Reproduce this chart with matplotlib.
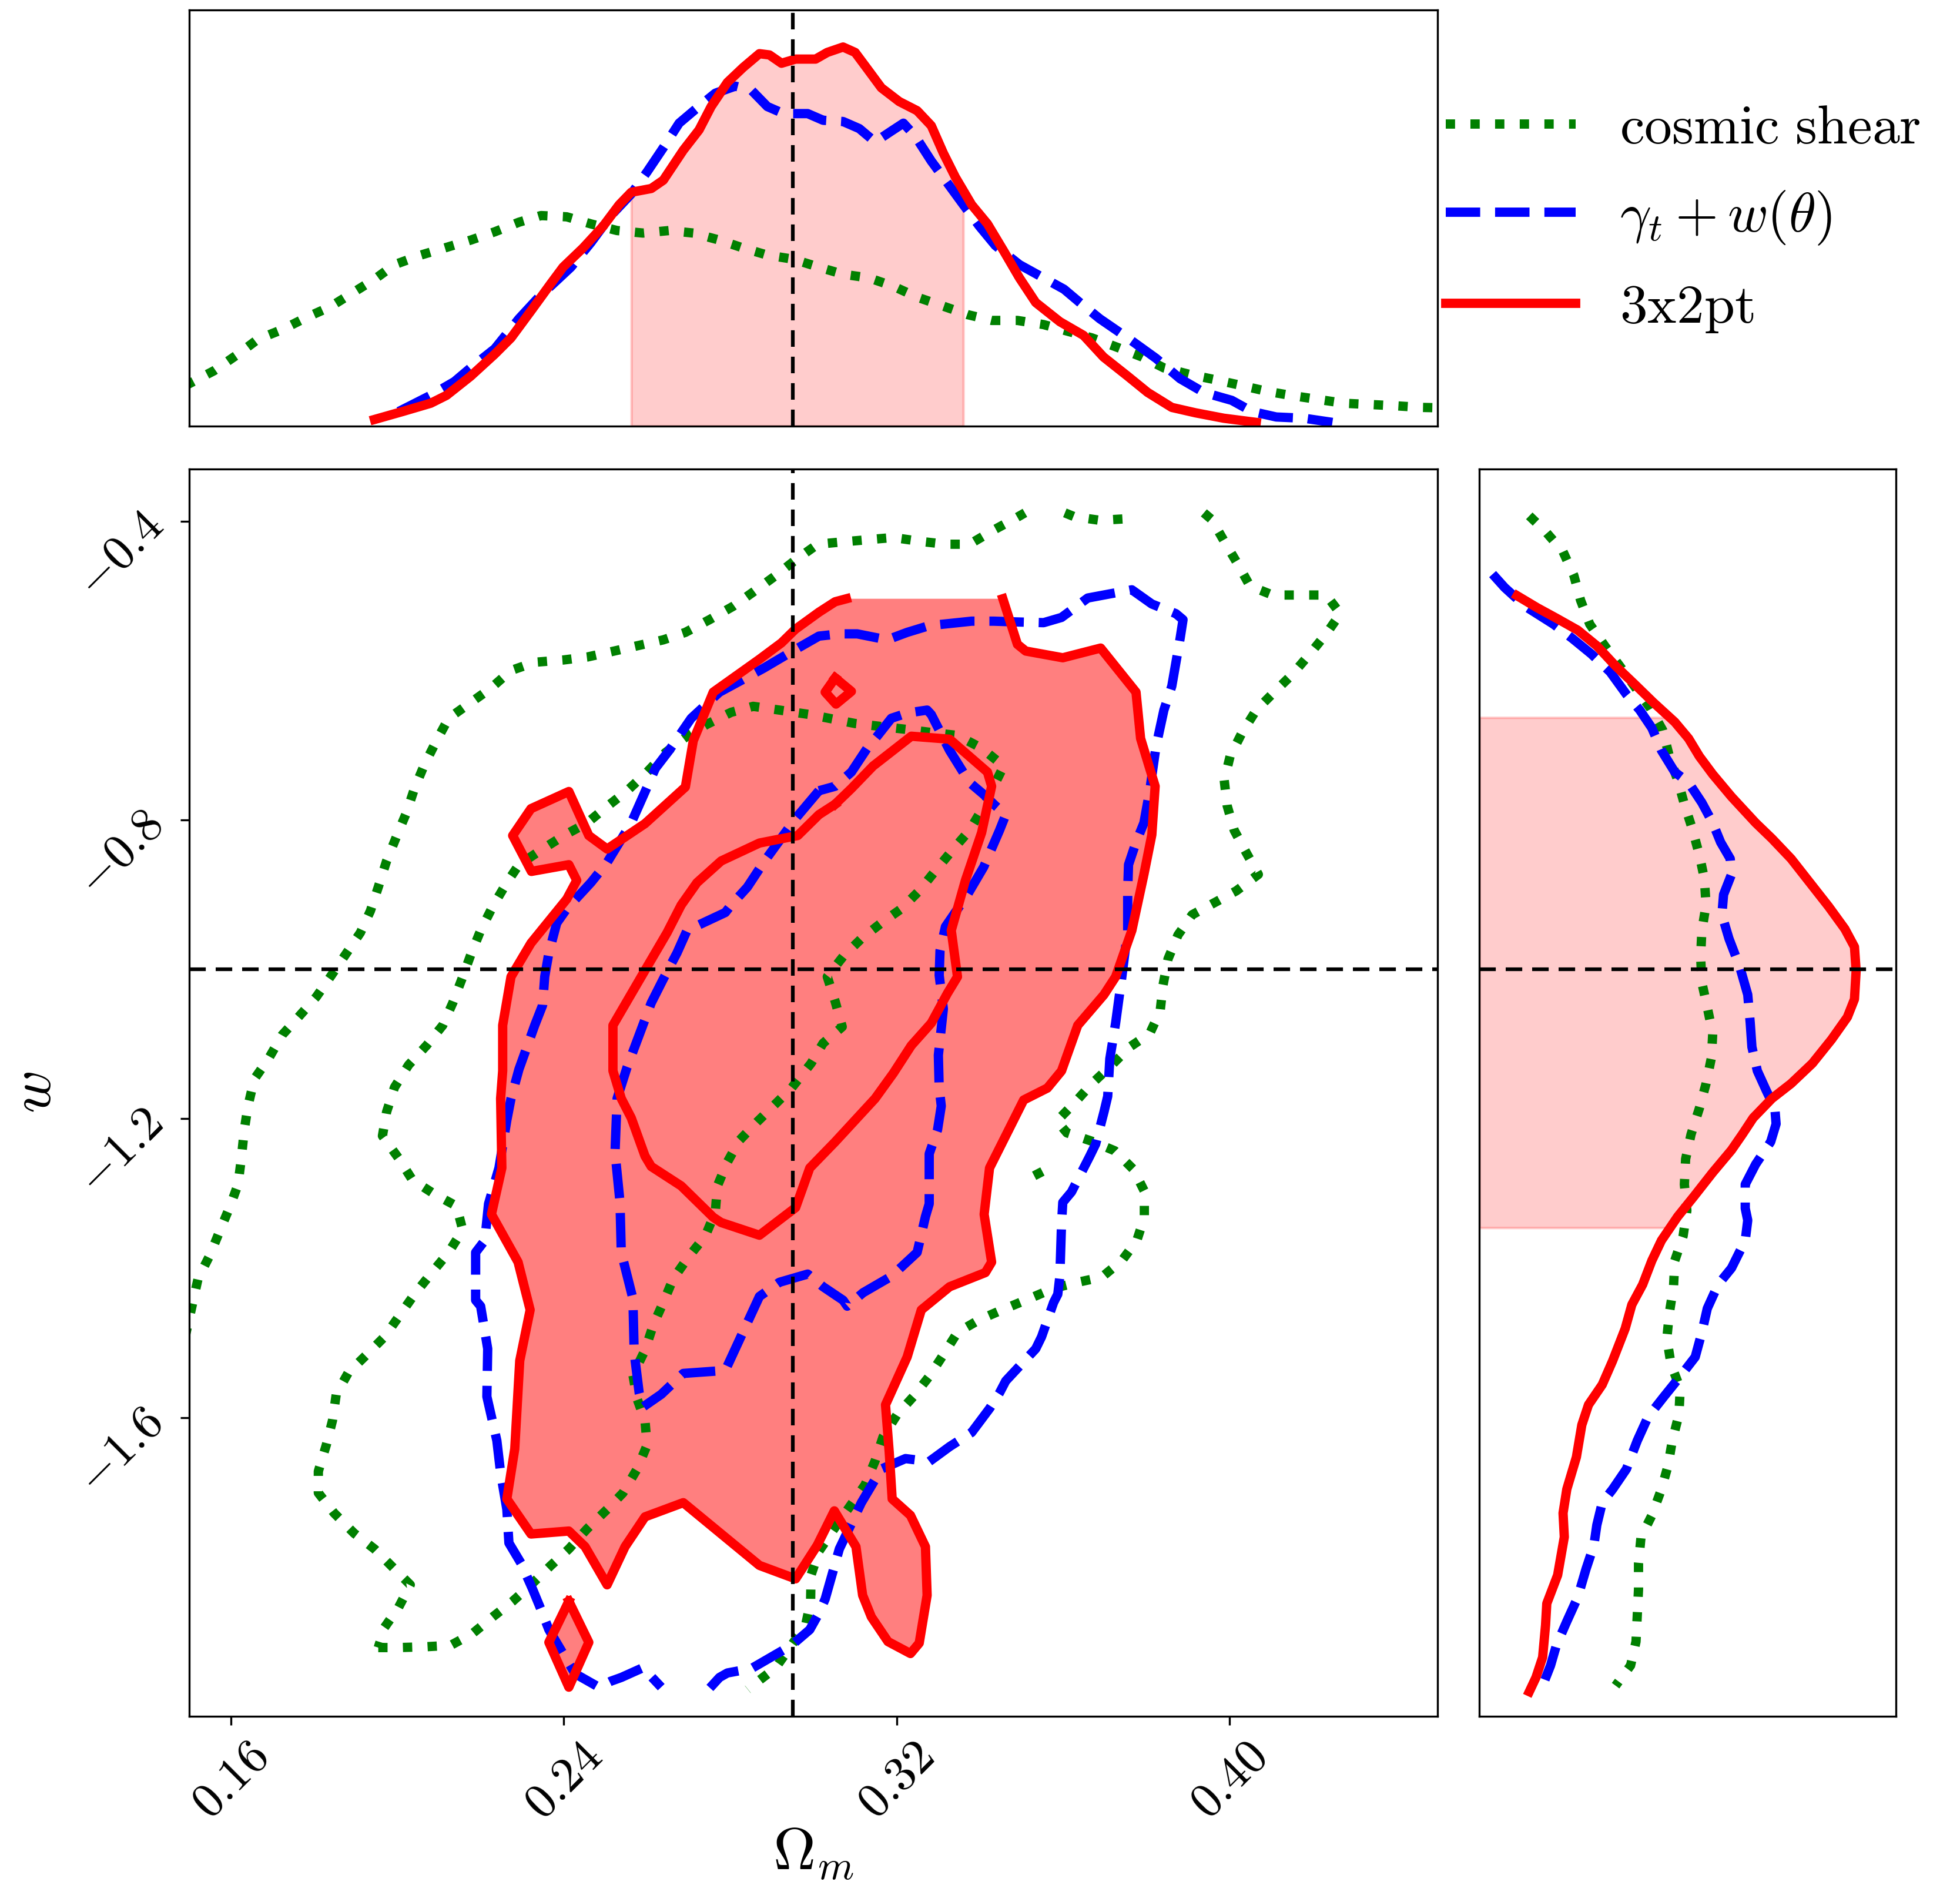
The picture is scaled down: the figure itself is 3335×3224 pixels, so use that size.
import numpy as np
import matplotlib
matplotlib.use("Agg")
import matplotlib.pyplot as plt
from matplotlib.lines import Line2D

plt.rcParams["mathtext.fontset"] = "cm"
plt.rcParams["font.family"] = "serif"
plt.rcParams["font.serif"] = ["DejaVu Serif"]

# fiducial cosmology
om_fid = 0.295
w_fid = -1.0

om_ticks = [0.16, 0.24, 0.32, 0.40]
om_ticklabels = [r"$0.16$", r"$0.24$", r"$0.32$", r"$0.40$"]
w_ticks = [-1.6, -1.2, -0.8, -0.4]
w_ticklabels = [r"$-1.6$", r"$-1.2$", r"$-0.8$", r"$-0.4$"]

labels = [r"$\mathrm{cosmic\ shear}$", r"$\gamma_t + w(\theta)$", r"$\mathrm{3x2pt}$"]

# ---- 2D contours, (Omega_m, w) vertices ----
# 3x2pt outer (95%) contour, open at the top edge of the grid
red_outer = np.array([
    (0.3079, -0.504), (0.3052, -0.508), (0.3013, -0.522), (0.2956, -0.545), (0.2923, -0.563),
    (0.2870, -0.585), (0.2759, -0.629), (0.2711, -0.694), (0.2692, -0.756), (0.2595, -0.805),
    (0.2504, -0.839), (0.2460, -0.821), (0.2412, -0.762), (0.2321, -0.785), (0.2277, -0.821),
    (0.2322, -0.869), (0.2412, -0.860), (0.2431, -0.881), (0.2407, -0.906), (0.2321, -0.965),
    (0.2273, -1.010), (0.2253, -1.075), (0.2253, -1.136), (0.2248, -1.173), (0.2251, -1.266),
    (0.2226, -1.328), (0.2290, -1.392), (0.2319, -1.456), (0.2294, -1.524), (0.2282, -1.642),
    (0.2263, -1.709), (0.2321, -1.756), (0.2412, -1.752), (0.2451, -1.773), (0.2504, -1.824),
    (0.2547, -1.773), (0.2595, -1.733), (0.2687, -1.714), (0.2870, -1.798), (0.2957, -1.816),
    (0.3009, -1.771), (0.3050, -1.725), (0.3102, -1.773), (0.3118, -1.838), (0.3139, -1.867),
    (0.3179, -1.900), (0.3233, -1.916), (0.3254, -1.902), (0.3273, -1.838), (0.3269, -1.773),
    (0.3233, -1.731), (0.3189, -1.709), (0.3182, -1.647), (0.3173, -1.583), (0.3225, -1.519),
    (0.3259, -1.456), (0.3327, -1.425), (0.3413, -1.406), (0.3428, -1.392), (0.3410, -1.328),
    (0.3423, -1.266), (0.3505, -1.175), (0.3562, -1.159), (0.3596, -1.136), (0.3635, -1.075),
    (0.3698, -1.034), (0.3726, -1.010), (0.3765, -0.948), (0.3794, -0.873), (0.3813, -0.820),
    (0.3821, -0.755), (0.3786, -0.691), (0.3775, -0.629), (0.3690, -0.570), (0.3599, -0.583),
    (0.3510, -0.574), (0.3490, -0.565), (0.3455, -0.504),
])
red_island_top = np.array([(0.3052, -0.610), (0.3091, -0.628), (0.3054, -0.645), (0.3028, -0.629)])
red_island_bottom = np.array([(0.2412, -1.846), (0.2460, -1.901), (0.2412, -1.961), (0.2364, -1.901)])

# 3x2pt inner (68%) contour
red_inner = np.array([
    (0.3052, -0.779), (0.3013, -0.793), (0.2962, -0.821), (0.2870, -0.831), (0.2778, -0.855),
    (0.2720, -0.884), (0.2682, -0.914), (0.2648, -0.951), (0.2586, -1.010), (0.2518, -1.075),
    (0.2518, -1.136), (0.2538, -1.173), (0.2562, -1.199), (0.2595, -1.250), (0.2610, -1.264),
    (0.2682, -1.290), (0.2759, -1.332), (0.2778, -1.339), (0.2870, -1.356), (0.2957, -1.319),
    (0.2991, -1.266), (0.3052, -1.231), (0.3148, -1.173), (0.3192, -1.139), (0.3235, -1.102),
    (0.3283, -1.072), (0.3322, -1.032), (0.3346, -1.010), (0.3331, -0.948), (0.3365, -0.881),
    (0.3404, -0.817), (0.3428, -0.755), (0.3418, -0.736), (0.3327, -0.692), (0.3235, -0.688),
    (0.3143, -0.728), (0.3091, -0.758),
])

# gamma_t + w(theta) outer contour, open at the bottom edge of the grid
blue_outer = np.array([
    (0.2751, -1.962), (0.2774, -1.948), (0.2793, -1.942), (0.2851, -1.936), (0.2947, -1.905),
    (0.2991, -1.884), (0.3013, -1.862), (0.3028, -1.843), (0.3062, -1.776), (0.3115, -1.714),
    (0.3163, -1.669), (0.3221, -1.655), (0.3278, -1.659), (0.3327, -1.639), (0.3380, -1.620),
    (0.3423, -1.588), (0.3447, -1.567), (0.3462, -1.551), (0.3534, -1.508), (0.3548, -1.492),
    (0.3577, -1.446), (0.3587, -1.435), (0.3592, -1.411), (0.3596, -1.341), (0.3599, -1.312),
    (0.3620, -1.298), (0.3664, -1.250), (0.3678, -1.234), (0.3698, -1.191), (0.3707, -1.170),
    (0.3712, -1.120), (0.3726, -1.072), (0.3741, -1.010), (0.3755, -0.948), (0.3755, -0.895),
    (0.3757, -0.860), (0.3775, -0.830), (0.3794, -0.804), (0.3808, -0.761), (0.3823, -0.702),
    (0.3842, -0.653), (0.3861, -0.621), (0.3871, -0.589), (0.3881, -0.557), (0.3888, -0.532),
    (0.3871, -0.524), (0.3813, -0.511), (0.3765, -0.492), (0.3707, -0.498), (0.3659, -0.503),
    (0.3596, -0.529), (0.3553, -0.536), (0.3486, -0.535), (0.3433, -0.534), (0.3380, -0.534),
    (0.3278, -0.540), (0.3225, -0.549), (0.3177, -0.559), (0.3105, -0.551), (0.3062, -0.551),
    (0.3013, -0.554), (0.2947, -0.575), (0.2880, -0.597), (0.2774, -0.629), (0.2706, -0.664),
    (0.2653, -0.707), (0.2620, -0.731), (0.2562, -0.804), (0.2504, -0.857), (0.2465, -0.884),
    (0.2407, -0.919), (0.2383, -0.938), (0.2364, -0.978), (0.2354, -1.010), (0.2349, -1.048),
    (0.2330, -1.075), (0.2292, -1.134), (0.2273, -1.173), (0.2263, -1.202), (0.2244, -1.266),
    (0.2219, -1.314), (0.2210, -1.363), (0.2188, -1.379), (0.2188, -1.443), (0.2200, -1.451),
    (0.2217, -1.508), (0.2215, -1.572), (0.2239, -1.631), (0.2248, -1.674), (0.2263, -1.723),
    (0.2268, -1.768), (0.2297, -1.795), (0.2325, -1.830), (0.2345, -1.857), (0.2364, -1.884),
    (0.2398, -1.916), (0.2427, -1.943), (0.2484, -1.961), (0.2513, -1.953), (0.2538, -1.948),
    (0.2590, -1.935), (0.2634, -1.961),
])

blue_inner = np.array([
    (0.3013, -0.761), (0.2957, -0.798), (0.2880, -0.857), (0.2841, -0.890), (0.2802, -0.914),
    (0.2788, -0.924), (0.2696, -0.948), (0.2672, -0.978), (0.2639, -1.013), (0.2610, -1.045),
    (0.2581, -1.088), (0.2552, -1.131), (0.2528, -1.173), (0.2523, -1.245), (0.2535, -1.312),
    (0.2538, -1.379), (0.2566, -1.441), (0.2569, -1.513), (0.2581, -1.567), (0.2590, -1.586),
    (0.2634, -1.569), (0.2687, -1.541), (0.2788, -1.537), (0.2812, -1.508), (0.2870, -1.438),
    (0.2918, -1.419), (0.2986, -1.408), (0.3023, -1.425), (0.3071, -1.443), (0.3081, -1.451),
    (0.3119, -1.433), (0.3187, -1.411), (0.3249, -1.379), (0.3269, -1.331), (0.3278, -1.314),
    (0.3278, -1.247), (0.3298, -1.215), (0.3307, -1.183), (0.3302, -1.159), (0.3300, -1.115),
    (0.3312, -1.053), (0.3302, -1.008), (0.3304, -0.975), (0.3317, -0.943), (0.3370, -0.900),
    (0.3409, -0.863), (0.3447, -0.814), (0.3462, -0.793), (0.3437, -0.781), (0.3409, -0.766),
    (0.3375, -0.750), (0.3327, -0.707), (0.3283, -0.659), (0.3273, -0.653), (0.3225, -0.657),
    (0.3187, -0.664), (0.3153, -0.688), (0.3129, -0.704), (0.3091, -0.736), (0.3052, -0.755),
])

# cosmic shear outer contour: three open pieces (grid edges on the left, top and bottom)
green_outer_a = np.array([
    (0.1490, -1.492), (0.1521, -1.414), (0.1550, -1.382), (0.1574, -1.349), (0.1598, -1.317),
    (0.1617, -1.288), (0.1625, -1.253), (0.1632, -1.215), (0.1641, -1.183), (0.1656, -1.147),
    (0.1690, -1.120), (0.1723, -1.088), (0.1762, -1.064), (0.1805, -1.037), (0.1839, -1.010),
    (0.1872, -0.983), (0.1911, -0.951), (0.1935, -0.922), (0.1954, -0.890), (0.1974, -0.855),
    (0.1998, -0.822), (0.2022, -0.790), (0.2041, -0.758), (0.2065, -0.726), (0.2094, -0.694),
    (0.2123, -0.664), (0.2176, -0.643), (0.2224, -0.624), (0.2273, -0.600), (0.2330, -0.589),
    (0.2398, -0.586), (0.2456, -0.582), (0.2513, -0.575), (0.2576, -0.567), (0.2639, -0.559),
    (0.2692, -0.549), (0.2750, -0.532), (0.2807, -0.514), (0.2855, -0.495), (0.2909, -0.473),
    (0.2957, -0.452), (0.3010, -0.431), (0.3067, -0.428), (0.3129, -0.425), (0.3192, -0.422),
    (0.3254, -0.427), (0.3317, -0.431), (0.3375, -0.431), (0.3433, -0.412), (0.3486, -0.396),
    (0.3508, -0.389),
])
green_outer_b = np.array([
    (0.3604, -0.389), (0.3626, -0.394), (0.3688, -0.399), (0.3749, -0.397), (0.3767, -0.389),
])
green_outer_c = np.array([
    (0.3938, -0.389), (0.3957, -0.398), (0.3988, -0.428), (0.4020, -0.458), (0.4049, -0.487),
    (0.4103, -0.499), (0.4165, -0.499), (0.4232, -0.499), (0.4266, -0.524), (0.4232, -0.551),
    (0.4194, -0.577), (0.4151, -0.605), (0.4107, -0.629), (0.4064, -0.653), (0.4030, -0.683),
    (0.4001, -0.715), (0.3987, -0.747), (0.3994, -0.781), (0.4011, -0.814), (0.4040, -0.844),
    (0.4069, -0.873), (0.4016, -0.895), (0.3963, -0.911), (0.3910, -0.927), (0.3876, -0.954),
    (0.3852, -0.986), (0.3840, -1.021), (0.3833, -1.056), (0.3808, -1.086), (0.3760, -1.104),
    (0.3717, -1.128), (0.3669, -1.153), (0.3627, -1.179), (0.3585, -1.203), (0.3609, -1.219),
    (0.3668, -1.230), (0.3724, -1.243), (0.3769, -1.268), (0.3795, -1.297), (0.3795, -1.332),
    (0.3777, -1.363), (0.3741, -1.390), (0.3693, -1.412), (0.3635, -1.419), (0.3577, -1.427),
    (0.3514, -1.442), (0.3457, -1.455), (0.3399, -1.469), (0.3346, -1.486), (0.3312, -1.516),
    (0.3278, -1.545), (0.3240, -1.572), (0.3201, -1.596), (0.3167, -1.626), (0.3148, -1.658),
    (0.3124, -1.690), (0.3086, -1.720), (0.3052, -1.747), (0.3013, -1.779), (0.2994, -1.811),
    (0.2993, -1.846), (0.2981, -1.878), (0.2909, -1.935), (0.2860, -1.956), (0.2842, -1.964),
])
green_outer_bit = np.array([(0.3535, -1.268), (0.3548, -1.282)])

# cosmic shear inner (68%) contour
green_inner = np.array([
    (0.1954, -1.908), (0.2003, -1.908), (0.2065, -1.907), (0.2128, -1.905), (0.2181, -1.889),
    (0.2229, -1.867), (0.2277, -1.846), (0.2321, -1.824), (0.2369, -1.798), (0.2412, -1.776),
    (0.2456, -1.749), (0.2504, -1.723), (0.2542, -1.701), (0.2576, -1.669), (0.2600, -1.637),
    (0.2595, -1.604), (0.2576, -1.575), (0.2566, -1.543), (0.2595, -1.510), (0.2615, -1.476),
    (0.2639, -1.446), (0.2663, -1.414), (0.2701, -1.384), (0.2740, -1.357), (0.2764, -1.325),
    (0.2769, -1.290), (0.2793, -1.258), (0.2822, -1.229), (0.2865, -1.204), (0.2909, -1.180),
    (0.2947, -1.159), (0.2994, -1.126), (0.3023, -1.099), (0.3069, -1.077), (0.3052, -1.043),
    (0.3033, -1.010), (0.3071, -0.983), (0.3115, -0.959), (0.3163, -0.938), (0.3211, -0.919),
    (0.3254, -0.895), (0.3293, -0.868), (0.3336, -0.839), (0.3375, -0.814), (0.3409, -0.782),
    (0.3433, -0.755), (0.3457, -0.728), (0.3404, -0.704), (0.3346, -0.687), (0.3283, -0.683),
    (0.3225, -0.679), (0.3163, -0.675), (0.3100, -0.671), (0.3037, -0.664), (0.2991, -0.659),
    (0.2918, -0.653), (0.2855, -0.648), (0.2802, -0.656), (0.2744, -0.672), (0.2696, -0.688),
    (0.2644, -0.710), (0.2600, -0.736), (0.2552, -0.761), (0.2504, -0.782), (0.2456, -0.804),
    (0.2403, -0.820), (0.2349, -0.839), (0.2292, -0.860), (0.2263, -0.884), (0.2229, -0.916),
    (0.2200, -0.948), (0.2176, -0.981), (0.2157, -1.010), (0.2133, -1.045), (0.2109, -1.075),
    (0.2070, -1.102), (0.2027, -1.128), (0.1993, -1.158), (0.1974, -1.191), (0.1964, -1.223),
    (0.2003, -1.253), (0.2036, -1.282), (0.2089, -1.301), (0.2142, -1.317), (0.2157, -1.349),
    (0.2123, -1.379), (0.2080, -1.408), (0.2041, -1.435), (0.2007, -1.462), (0.1969, -1.492),
    (0.1926, -1.516), (0.1882, -1.540), (0.1853, -1.569), (0.1844, -1.604), (0.1829, -1.637),
    (0.1810, -1.672), (0.1810, -1.701), (0.1848, -1.728), (0.1896, -1.755), (0.1945, -1.776),
    (0.1988, -1.800), (0.2031, -1.824), (0.2003, -1.854), (0.1969, -1.881),
])

# ---- 1D marginals ----
# Omega_m (top panel): (Omega_m, relative density)
om_red = np.array([
    (0.1945, 0.016), (0.2012, 0.035), (0.2080, 0.055), (0.2118, 0.074), (0.2176, 0.120),
    (0.2234, 0.173), (0.2273, 0.212), (0.2321, 0.277), (0.2369, 0.343), (0.2398, 0.382),
    (0.2446, 0.428), (0.2494, 0.480), (0.2533, 0.532), (0.2562, 0.562), (0.2610, 0.571),
    (0.2639, 0.591), (0.2687, 0.663), (0.2725, 0.712), (0.2754, 0.768), (0.2793, 0.826),
    (0.2831, 0.862), (0.2870, 0.895), (0.2894, 0.892), (0.2923, 0.872), (0.2957, 0.882),
    (0.3005, 0.882), (0.3033, 0.898), (0.3071, 0.911), (0.3100, 0.898), (0.3129, 0.859),
    (0.3163, 0.813), (0.3206, 0.780), (0.3249, 0.758), (0.3283, 0.722), (0.3312, 0.656),
    (0.3341, 0.598), (0.3380, 0.532), (0.3418, 0.486), (0.3457, 0.421), (0.3495, 0.356),
    (0.3534, 0.297), (0.3592, 0.251), (0.3649, 0.218), (0.3697, 0.166), (0.3755, 0.120),
    (0.3803, 0.081), (0.3861, 0.045), (0.3918, 0.032), (0.3986, 0.019), (0.4064, 0.009),
])
om_blue = np.array([
    (0.2003, 0.035), (0.2080, 0.074), (0.2137, 0.107), (0.2176, 0.140), (0.2234, 0.186),
    (0.2292, 0.258), (0.2340, 0.310), (0.2417, 0.382), (0.2465, 0.441), (0.2513, 0.506),
    (0.2562, 0.558), (0.2600, 0.611), (0.2639, 0.669), (0.2677, 0.728), (0.2716, 0.761),
    (0.2764, 0.800), (0.2812, 0.817), (0.2851, 0.807), (0.2889, 0.768), (0.2928, 0.751),
    (0.2986, 0.751), (0.3023, 0.735), (0.3071, 0.732), (0.3110, 0.715), (0.3148, 0.683),
    (0.3187, 0.709), (0.3216, 0.728), (0.3245, 0.696), (0.3283, 0.637), (0.3322, 0.584),
    (0.3360, 0.532), (0.3399, 0.480), (0.3437, 0.434), (0.3495, 0.388), (0.3553, 0.356),
    (0.3602, 0.329), (0.3640, 0.297), (0.3688, 0.258), (0.3755, 0.212), (0.3823, 0.163),
    (0.3881, 0.114), (0.3938, 0.081), (0.4005, 0.062), (0.4054, 0.035), (0.4112, 0.022),
    (0.4179, 0.019), (0.4247, 0.009),
])
om_green = np.array([
    (0.1490, 0.097), (0.1559, 0.133), (0.1617, 0.173), (0.1665, 0.209), (0.1723, 0.232),
    (0.1781, 0.261), (0.1839, 0.287), (0.1892, 0.320), (0.1945, 0.353), (0.1993, 0.388),
    (0.2056, 0.411), (0.2113, 0.428), (0.2176, 0.447), (0.2234, 0.467), (0.2292, 0.490),
    (0.2345, 0.506), (0.2407, 0.503), (0.2465, 0.486), (0.2528, 0.470), (0.2590, 0.464),
    (0.2653, 0.470), (0.2711, 0.464), (0.2774, 0.447), (0.2831, 0.428), (0.2889, 0.411),
    (0.2952, 0.401), (0.3013, 0.382), (0.3071, 0.365), (0.3134, 0.356), (0.3192, 0.336),
    (0.3249, 0.310), (0.3307, 0.290), (0.3370, 0.268), (0.3428, 0.254), (0.3490, 0.254),
    (0.3553, 0.244), (0.3611, 0.228), (0.3669, 0.212), (0.3731, 0.189), (0.3790, 0.166),
    (0.3842, 0.140), (0.3905, 0.124), (0.3968, 0.111), (0.4027, 0.098), (0.4088, 0.084),
    (0.4146, 0.074), (0.4207, 0.065), (0.4275, 0.055), (0.4337, 0.052), (0.4397, 0.049),
    (0.4461, 0.045), (0.4510, 0.044),
])
om_band = (0.2562, 0.3360)

# w (right panel): (relative density, w)
w_red = np.array([
    (0.091, -0.500), (0.139, -0.516), (0.185, -0.530), (0.236, -0.546), (0.282, -0.567),
    (0.327, -0.594), (0.372, -0.618), (0.418, -0.643), (0.469, -0.669), (0.502, -0.691),
    (0.528, -0.715), (0.560, -0.739), (0.605, -0.769), (0.663, -0.804), (0.702, -0.825),
    (0.748, -0.852), (0.793, -0.884), (0.838, -0.916), (0.877, -0.946), (0.900, -0.970),
    (0.904, -1.002), (0.900, -1.040), (0.883, -1.064), (0.845, -1.094), (0.799, -1.126),
    (0.748, -1.153), (0.702, -1.173), (0.657, -1.199), (0.631, -1.221), (0.605, -1.242),
    (0.560, -1.272), (0.515, -1.304), (0.476, -1.331), (0.437, -1.363), (0.414, -1.390),
    (0.392, -1.422), (0.366, -1.449), (0.350, -1.481), (0.320, -1.524), (0.295, -1.556),
    (0.262, -1.583), (0.246, -1.610), (0.233, -1.653), (0.210, -1.696), (0.201, -1.728),
    (0.204, -1.760), (0.188, -1.811), (0.162, -1.849), (0.159, -1.878), (0.152, -1.921),
    (0.136, -1.948), (0.120, -1.967),
])
w_blue = np.array([
    (0.032, -0.471), (0.061, -0.489), (0.110, -0.514), (0.178, -0.538), (0.223, -0.557),
    (0.269, -0.578), (0.314, -0.602), (0.353, -0.632), (0.385, -0.653), (0.414, -0.677),
    (0.437, -0.707), (0.469, -0.736), (0.502, -0.750), (0.534, -0.777), (0.560, -0.804),
    (0.579, -0.830), (0.602, -0.852), (0.605, -0.873), (0.586, -0.900), (0.582, -0.927),
    (0.599, -0.959), (0.625, -0.997), (0.644, -1.034), (0.650, -1.072), (0.654, -1.104),
    (0.667, -1.136), (0.689, -1.163), (0.709, -1.186), (0.712, -1.207), (0.699, -1.231),
    (0.663, -1.261), (0.638, -1.288), (0.638, -1.320), (0.644, -1.336), (0.638, -1.363),
    (0.605, -1.400), (0.573, -1.422), (0.547, -1.454), (0.534, -1.486), (0.518, -1.519),
    (0.482, -1.545), (0.443, -1.572), (0.405, -1.599), (0.379, -1.631), (0.353, -1.669),
    (0.320, -1.696), (0.295, -1.714), (0.282, -1.744), (0.275, -1.771), (0.256, -1.803),
    (0.236, -1.841), (0.210, -1.873), (0.185, -1.905), (0.171, -1.932), (0.152, -1.959),
])
w_green = np.array([
    (0.120, -0.393), (0.159, -0.414), (0.201, -0.441), (0.227, -0.473), (0.243, -0.506),
    (0.265, -0.538), (0.301, -0.567), (0.337, -0.594), (0.376, -0.624), (0.411, -0.651),
    (0.440, -0.680), (0.456, -0.715), (0.476, -0.747), (0.492, -0.779), (0.511, -0.812),
    (0.528, -0.847), (0.540, -0.879), (0.544, -0.914), (0.534, -0.948), (0.531, -0.983),
    (0.534, -1.018), (0.547, -1.051), (0.560, -1.086), (0.557, -1.118), (0.544, -1.153),
    (0.528, -1.186), (0.508, -1.221), (0.495, -1.254), (0.492, -1.288), (0.498, -1.323),
    (0.489, -1.357), (0.469, -1.390), (0.466, -1.425), (0.456, -1.460), (0.450, -1.494),
    (0.460, -1.529), (0.482, -1.561), (0.479, -1.596), (0.463, -1.631), (0.453, -1.664),
    (0.437, -1.696), (0.414, -1.731), (0.388, -1.760), (0.382, -1.795), (0.382, -1.830),
    (0.379, -1.865), (0.376, -1.900), (0.363, -1.932), (0.327, -1.959),
])
w_band = (-1.346, -0.663)

# ---- styles ----
LW = 3.8
sty_green = dict(color="green", ls=":", lw=LW)
sty_blue = dict(color="blue", ls="--", lw=LW)
sty_red = dict(color="red", ls="-", lw=LW)
sty_fid = dict(color="black", ls=(0, (4.5, 2.7)), lw=1.5, zorder=10)


def closed(a):
    return np.vstack([a, a[:1]])


fig = plt.figure(figsize=(11.117, 10.747), dpi=300)
ax = fig.add_axes([0.0966, 0.0943, 0.6369, 0.6583])
ax_top = fig.add_axes([0.0966, 0.7751, 0.6369, 0.2196])
ax_right = fig.add_axes([0.7547, 0.0943, 0.2127, 0.6583])

# main 2D panel
ax.fill(red_outer[:, 0], red_outer[:, 1], color="red", alpha=0.5, lw=0, zorder=1)
ax.fill(red_island_bottom[:, 0], red_island_bottom[:, 1], color="red", alpha=0.5, lw=0, zorder=1)

for piece in [green_outer_a, green_outer_b, green_outer_c, green_outer_bit]:
    ax.plot(piece[:, 0], piece[:, 1], zorder=2, **sty_green)
g = closed(green_inner)
ax.plot(g[:, 0], g[:, 1], zorder=2, **sty_green)

ax.plot(blue_outer[:, 0], blue_outer[:, 1], zorder=3, **sty_blue)
b = closed(blue_inner)
ax.plot(b[:, 0], b[:, 1], zorder=3, **sty_blue)

ax.plot(red_outer[:, 0], red_outer[:, 1], zorder=4, **sty_red)
for loop in [red_inner, red_island_top, red_island_bottom]:
    c = closed(loop)
    ax.plot(c[:, 0], c[:, 1], zorder=4, **sty_red)

ax.axvline(om_fid, **sty_fid)
ax.axhline(w_fid, **sty_fid)
ax.set_xlim(0.15, 0.45)
ax.set_ylim(-2.0, -0.33)
ax.set_xticks(om_ticks)
ax.set_xticklabels(om_ticklabels, fontsize=20, rotation=45)
ax.set_yticks(w_ticks)
ax.set_yticklabels(w_ticklabels, fontsize=20, rotation=45)
ax.set_xlabel(r"$\Omega_m$", fontsize=24, labelpad=-1)
ax.set_ylabel(r"$w$", fontsize=24, labelpad=2)

# top 1D panel
ax_top.plot(om_green[:, 0], om_green[:, 1], **sty_green)
ax_top.plot(om_blue[:, 0], om_blue[:, 1], **sty_blue)
ax_top.plot(om_red[:, 0], om_red[:, 1], **sty_red)
x_in = om_red[(om_red[:, 0] > om_band[0]) & (om_red[:, 0] < om_band[1]), 0]
xs = np.concatenate([[om_band[0]], x_in, [om_band[1]]])
ys = np.interp(xs, om_red[:, 0], om_red[:, 1])
ax_top.fill_between(xs, 0, ys, color="red", alpha=0.2, zorder=0)
ax_top.axvline(om_fid, **sty_fid)
ax_top.set_xlim(0.15, 0.45)
ax_top.set_ylim(0, 1)
ax_top.set_xticks([])
ax_top.set_yticks([])

# right 1D panel
ax_right.plot(w_green[:, 0], w_green[:, 1], **sty_green)
ax_right.plot(w_blue[:, 0], w_blue[:, 1], **sty_blue)
ax_right.plot(w_red[:, 0], w_red[:, 1], **sty_red)
wr = w_red[::-1]
w_in = wr[(wr[:, 1] > w_band[0]) & (wr[:, 1] < w_band[1]), 1]
ws = np.concatenate([[w_band[0]], w_in, [w_band[1]]])
qs = np.interp(ws, wr[:, 1], wr[:, 0])
ax_right.fill_betweenx(ws, 0, qs, color="red", alpha=0.2, zorder=0)
ax_right.axhline(w_fid, **sty_fid)
ax_right.set_ylim(-2.0, -0.33)
ax_right.set_xlim(0, 1)
ax_right.set_xticks([])
ax_right.set_yticks([])

handles = [Line2D([], [], **sty_green), Line2D([], [], **sty_blue), Line2D([], [], **sty_red)]
ax_top.legend(handles, labels, loc="center left", bbox_to_anchor=(1.0, 0.5),
              frameon=False, fontsize=22.5, borderaxespad=0.0, borderpad=0.15,
              handlelength=2.35, handletextpad=0.8, labelspacing=0.62)

fig.savefig("out.png", dpi=300)
